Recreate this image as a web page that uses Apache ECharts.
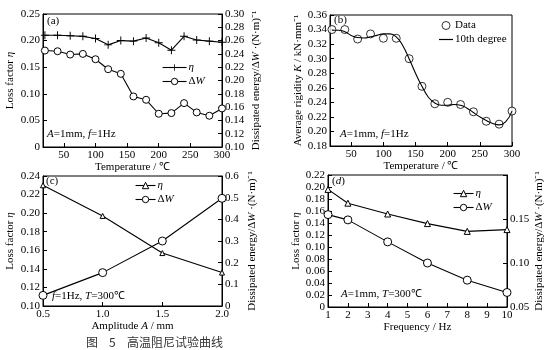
<!DOCTYPE html>
<html>
<head>
<meta charset="utf-8">
<script src="https://cdn.jsdelivr.net/npm/echarts@6/dist/echarts.min.js"></script>
<style>
  html, body { margin: 0; padding: 0; background: #fff; }
  #chart { width: 550px; height: 350px; }
</style>
</head>
<body>
<div id="chart"></div>
<script>
// (a) loss factor / dissipated energy vs temperature
const tempX = [20, 40, 60, 80, 100, 120, 140, 160, 180, 200, 220, 240, 260, 280, 300]
const etaA = [0.210, 0.210, 0.209, 0.208, 0.204, 0.192, 0.200, 0.199, 0.205, 0.196, 0.182, 0.208, 0.201, 0.199, 0.197]
const dwA = [0.245, 0.244, 0.239, 0.240, 0.232, 0.217, 0.210, 0.176, 0.171, 0.150, 0.151, 0.166, 0.152, 0.147, 0.158]

// (b) average rigidity vs temperature, data + fitted curve
const rigidity = [0.340, 0.340, 0.327, 0.334, 0.328, 0.328, 0.300, 0.262, 0.238, 0.240, 0.237, 0.227, 0.214, 0.210, 0.228]
const fitT = [20, 30, 40, 50, 60, 70, 80, 90, 100, 110, 120, 130, 140, 150, 160, 170, 180, 190, 200, 210, 220, 230, 240, 250, 260, 270, 280, 290, 300]
const fitK = [0.339, 0.339, 0.337, 0.332, 0.329, 0.3285, 0.330, 0.332, 0.334, 0.334, 0.330, 0.318, 0.300, 0.280, 0.262, 0.247, 0.239, 0.236, 0.236, 0.237, 0.236, 0.232, 0.226, 0.220, 0.215, 0.211, 0.209, 0.213, 0.228]

// (c) vs amplitude
const ampX = [0.5, 1.0, 1.5, 2.0]
const etaC = [0.230, 0.197, 0.157, 0.136]
const dwC = [0.049, 0.154, 0.300, 0.497]

// (d) vs frequency
const freqX = [1, 2, 4, 6, 8, 10]
const etaD = [0.196, 0.173, 0.155, 0.139, 0.126, 0.129]
const dwD = [0.155, 0.149, 0.124, 0.100, 0.0805, 0.0665]

const tempTicks = [50, 100, 150, 200, 250, 300]

const FONT = 'Liberation Serif'
const BLACK = '#000'
const rich = { i: { fontStyle: 'italic', fontFamily: FONT, fontSize: 11, color: BLACK } }
const labelFont = { fontFamily: FONT, fontSize: 11, color: BLACK }

const pairs = (xs, ys) => xs.map((x, i) => [x, ys[i]])

const plusSymbol = 'path://M4.4,0H5.6V10H4.4ZM0,4.4H10V5.6H0Z'

function baseAxis(extra) {
  return Object.assign({
    type: 'value',
    axisLine: { show: true, lineStyle: { color: BLACK, width: 1 } },
    axisTick: { show: true, inside: true, length: 4, lineStyle: { color: BLACK } },
    splitLine: { show: false },
    nameLocation: 'middle',
    nameTextStyle: Object.assign({ rich }, labelFont),
  }, extra)
}

const fix = (d, zero) => v => (zero && v === 0 ? '0' : v.toFixed(d))

const grids = [
  { left: 43, top: 14, width: 179, height: 133 },
  { left: 330, top: 15, width: 182, height: 131 },
  { left: 43, top: 176, width: 179, height: 130 },
  { left: 328, top: 175, width: 179, height: 132 },
].map(g => Object.assign({ show: true, borderColor: BLACK, borderWidth: 1, backgroundColor: 'transparent' }, g))

const xAxis = [
  baseAxis({
    gridIndex: 0, min: 17, max: 300, name: 'Temperature / ℃', nameGap: 13,
    axisLabel: Object.assign({ margin: 3, customValues: tempTicks, formatter: fix(0) }, labelFont),
    axisTick: { show: true, inside: true, length: 4, customValues: tempTicks, lineStyle: { color: BLACK } },
  }),
  baseAxis({
    gridIndex: 1, min: 17, max: 300, name: 'Temperature / ℃', nameGap: 13,
    axisLabel: Object.assign({ margin: 3, customValues: tempTicks, formatter: fix(0) }, labelFont),
    axisTick: { show: true, inside: true, length: 4, customValues: tempTicks, lineStyle: { color: BLACK } },
  }),
  baseAxis({
    gridIndex: 2, min: 0.5, max: 2.0, interval: 0.5, name: 'Amplitude {i|A} / mm', nameGap: 13,
    axisLabel: Object.assign({ margin: 3, formatter: fix(1) }, labelFont),
  }),
  baseAxis({
    gridIndex: 3, min: 1, max: 10, interval: 1, name: 'Frequency / Hz', nameGap: 13,
    axisLabel: Object.assign({ margin: 3, formatter: fix(0) }, labelFont),
  }),
]

const dwName = 'Dissipated energy/Δ{i|W} ·(N·m)⁻¹'

const yAxis = [
  baseAxis({
    gridIndex: 0, min: 0, max: 0.25, interval: 0.05, name: 'Loss factor {i|η}', nameGap: 27,
    axisLabel: Object.assign({ margin: 3, formatter: fix(2, true) }, labelFont),
  }),
  baseAxis({
    gridIndex: 0, position: 'right', min: 0.10, max: 0.30, interval: 0.02, name: dwName, nameGap: 29,
    axisLabel: Object.assign({ margin: 3, formatter: fix(2) }, labelFont),
  }),
  baseAxis({
    gridIndex: 1, min: 0.18, max: 0.36, interval: 0.02, name: 'Average rigidity {i|K} / kN·mm⁻¹', nameGap: 26,
    axisLabel: Object.assign({ margin: 3, formatter: fix(2) }, labelFont),
  }),
  baseAxis({
    gridIndex: 2, min: 0.10, max: 0.24, interval: 0.02, name: 'Loss factor {i|η}', nameGap: 27,
    axisLabel: Object.assign({ margin: 3, formatter: fix(2) }, labelFont),
  }),
  baseAxis({
    gridIndex: 2, position: 'right', min: 0, max: 0.6, interval: 0.1, name: dwName, nameGap: 25,
    axisLabel: Object.assign({ margin: 3, formatter: fix(1, true) }, labelFont),
  }),
  baseAxis({
    gridIndex: 3, min: 0, max: 0.22, interval: 0.02, name: 'Loss factor {i|η}', nameGap: 26,
    axisLabel: Object.assign({ margin: 3, formatter: fix(2, true) }, labelFont),
  }),
  baseAxis({
    gridIndex: 3, position: 'right', min: 0.05, max: 0.20, interval: 0.05, name: dwName, nameGap: 27,
    axisLabel: Object.assign({ margin: 3, formatter: v => (v > 0.18 ? '' : v.toFixed(2)) }, labelFont),
  }),
]

// open markers: white fill + thin black border (the "empty*" symbols force a 2px stroke)
const openStyle = { color: '#fff', borderColor: BLACK, borderWidth: 1 }

function lineSeries(name, xi, yi, data, symbol, size, itemStyle) {
  return {
    name, type: 'line', xAxisIndex: xi, yAxisIndex: yi, data,
    symbol, symbolSize: size, showAllSymbol: true,
    lineStyle: { color: BLACK, width: 1.1 },
    itemStyle: itemStyle || openStyle,
    animation: false,
  }
}

const series = [
  lineSeries('a-eta', 0, 0, pairs(tempX, etaA), plusSymbol, 8, { color: BLACK }),
  lineSeries('a-dw', 0, 1, pairs(tempX, dwA), 'circle', 7),
  {
    name: 'b-fit', type: 'line', xAxisIndex: 1, yAxisIndex: 2, data: pairs(fitT, fitK),
    smooth: 0.5, symbol: 'none', lineStyle: { color: BLACK, width: 1.1 }, itemStyle: { color: BLACK }, animation: false,
  },
  {
    name: 'b-data', type: 'scatter', xAxisIndex: 1, yAxisIndex: 2, data: pairs(tempX, rigidity),
    symbol: 'circle', symbolSize: 8, itemStyle: openStyle, animation: false,
  },
  lineSeries('c-eta', 2, 3, pairs(ampX, etaC), 'triangle', 5),
  lineSeries('c-dw', 2, 4, pairs(ampX, dwC), 'circle', 8),
  lineSeries('d-eta', 3, 5, pairs(freqX, etaD), 'triangle', 6),
  lineSeries('d-dw', 3, 6, pairs(freqX, dwD), 'circle', 8),
]

const legendText = {
  'a-eta': '{i|η}', 'a-dw': 'Δ{i|W}',
  'b-data': 'Data', 'b-fit': '10th degree',
  'c-eta': '{i|η}', 'c-dw': 'Δ{i|W}',
  'd-eta': '{i|η}', 'd-dw': 'Δ{i|W}',
}

function legend(data, left, top, w) {
  return {
    data, left, top, orient: 'vertical', itemGap: 3, itemWidth: w, itemHeight: 8,
    selectedMode: false, padding: 0,
    itemStyle: { borderWidth: 1 },
    lineStyle: { width: 1.1 },
    formatter: n => legendText[n],
    textStyle: Object.assign({ rich, padding: [0, 0, 0, -3] }, labelFont),
  }
}

function note(x, y, text, size) {
  return {
    type: 'text', left: x, top: y,
    style: { text, fill: BLACK, font: (size || 11) + 'px "' + FONT + '"', rich },
  }
}

function caption(x, text) {
  return {
    type: 'text', left: x, top: 336,
    style: { text, fill: '#333', font: '12px "Noto Sans CJK SC"' },
  }
}

const option = {
  backgroundColor: '#fff',
  animation: false,
  grid: grids,
  xAxis,
  yAxis,
  series,
  legend: [
    legend(['a-eta', 'a-dw'], 162, 62, 24),
    legend(['b-data', { name: 'b-fit', icon: 'path://M0,0H14V1.2H0Z' }], 439, 20, 14),
    legend(['c-eta', 'c-dw'], 135, 180, 20),
    legend(['d-eta', 'd-dw'], 453, 188, 20),
  ],
  graphic: [
    note(47, 16, '(a)'),
    note(334, 15, '(b)'),
    note(46, 176, '(c)'),
    note(332, 176, '({i|d})'),
    note(47, 129, '{i|A}=1mm, {i|f}=1Hz'),
    note(340, 129, '{i|A}=1mm, {i|f}=1Hz'),
    note(52, 291, '{i|f}=1Hz, {i|T}=300℃'),
    note(341, 289, '{i|A}=1mm, {i|T}=300℃'),
    caption(86, '图'),
    caption(109, '5'),
    caption(127, '高温阻尼试验曲线'),
  ],
}

const chart = echarts.init(document.getElementById('chart'))
chart.setOption(option)
</script>
</body>
</html>
